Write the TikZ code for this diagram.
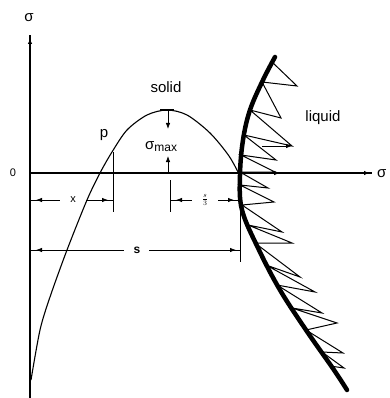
\documentclass[tikz,border=0pt]{standalone}
\usepackage{fontspec}
\setmainfont{Liberation Sans}
\usetikzlibrary{arrows.meta}
\begin{document}
\begin{tikzpicture}[x=1pt,y=-1pt,
  axisline/.style={line width=1.2pt},
  dimline/.style={line width=0.8pt},
  tipline/.style={line width=0.8pt,-{Latex[length=6pt,width=4.5pt]}},
  curveline/.style={line width=1.1pt},
  iface/.style={line width=4.5pt,line cap=round,line join=round},
  zig/.style={line width=1pt,line join=miter},
  biglabel/.style={font=\fontsize{15}{18}\selectfont,inner sep=0pt},
  smalllabel/.style={font=\fontsize{11}{13}\selectfont,inner sep=0pt}]
\useasboundingbox (0,0) rectangle (389,398);
\clip (0,0) rectangle (389,398);
% axes
\draw[axisline] (30,398) -- (30,35);
\draw[tipline,line width=1.2pt] (30,60) -- (30,38);
\draw[axisline] (30,173) -- (372,173);
\draw[tipline,line width=1.2pt] (346,173) -- (370,173);
\node[biglabel] (sigy) at (29,18) {σ};
\node[biglabel,anchor=west] (sigx) at (377,174) {σ};
\node[smalllabel] (zero) at (13,173) {0};
% stress curve in the solid
\draw[curveline] plot[smooth,tension=0.5] coordinates {(31,380) (40,330) (50,297) (67,250) (87,200) (100,173) (112,152) (127,130) (147,115) (167,110) (187,115) (210,133) (229,156) (240,176)};
\draw[line width=2.5pt] (160,110) -- (174,110);
\node[biglabel] (solid) at (166,87) {solid};
\node[biglabel] (p) at (104,135) {p};
\node[biglabel,anchor=west] (smax) at (145,147) {σ\raisebox{-2pt}{\fontsize{12}{14}\selectfont max}};
\draw[tipline] (168,110) -- (168,129);
\draw[tipline] (168,173) -- (168,156);
% interface and liquid
\draw[zig] (272,62) -- (297,86) -- (262,82) -- (281,118) -- (250,110) -- (292,146) -- (244,135) -- (276,160) -- (241,155) -- (275,172) -- (240,172) -- (268,188) -- (240,185) -- (274,202) -- (242,205) -- (282,232) -- (248,225) -- (292,243) -- (255,243) -- (300,277) -- (266,265) -- (315,292) -- (277,285) -- (322,313) -- (292,308) -- (337,323) -- (306,330) -- (343,353) -- (322,352) -- (344,368) -- (330,366);
\draw[tipline] (262,146) -- (292,146);
\draw[tipline] (250,173) -- (280,173);
\draw[iface] plot[smooth,tension=0.6] coordinates {(275,57) (263,80) (250,110) (243,140) (240,175) (242,210) (259,250) (280,290) (306,330) (334,370) (347,390)};
\node[biglabel] (liquid) at (323,118) {liquid};
% dimension ticks
\draw[dimline] (113,152) -- (113,212);
\draw[dimline] (170,180) -- (170,212);
\draw[dimline] (240,176) -- (240,262);
% x dimension
\draw[dimline] (30,200) -- (60,200);
\draw[tipline] (52,200) -- (36,200);
\node[smalllabel] (xl) at (73,200) {x};
\draw[dimline] (86,200) -- (113,200);
\draw[tipline] (92,200) -- (108,200);
% s/3 dimension
\draw[dimline] (170,200) -- (192,200);
\draw[tipline] (190,200) -- (176,200);
\node[inner sep=0pt,font=\fontsize{10}{12}\selectfont] (sthird) at (205,200) {$\frac{s}{3}$};
\draw[dimline] (218,200) -- (240,200);
\draw[tipline] (220,200) -- (234,200);
% s dimension
\draw[dimline] (30,250) -- (124,250);
\draw[tipline] (50,250) -- (36,250);
\node[inner sep=0pt,font=\fontsize{12}{14}\selectfont\bfseries] (sl) at (137,250) {s};
\draw[dimline] (149,250) -- (240,250);
\draw[tipline] (222,250) -- (236,250);
\end{tikzpicture}
\end{document}
